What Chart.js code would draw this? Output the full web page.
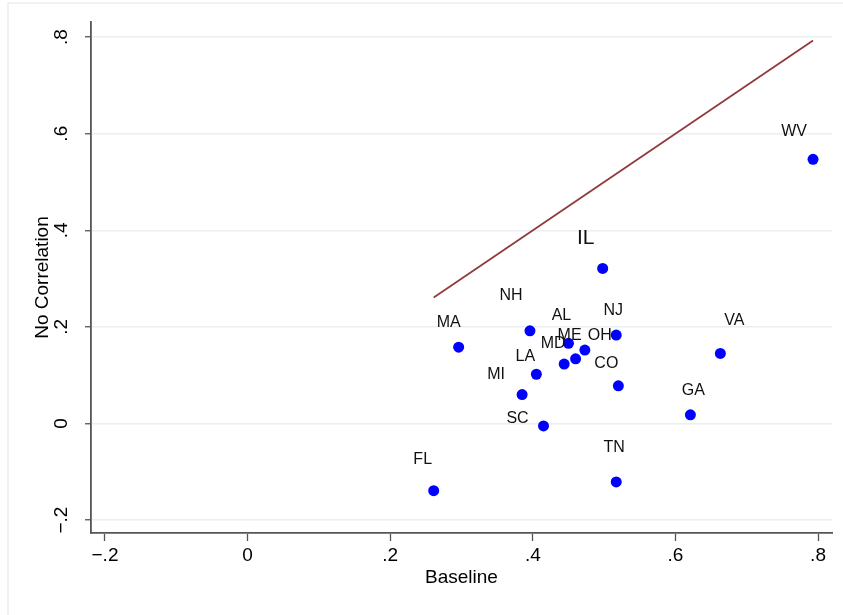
<!DOCTYPE html>
<html lang="en">
  <head>
    <meta charset="UTF-8" />
    <title>No Correlation vs Baseline</title>
    <script src="https://cdn.jsdelivr.net/npm/chart.js@4.4.0/dist/chart.umd.min.js"></script>
    <style>
      html, body { margin: 0; padding: 0; background: #fff; }
      #wrap { width: 843px; height: 615px; }
    </style>
  </head>
  <body>
    <div id="wrap"><canvas id="chart" width="843" height="615"></canvas></div>
    <script>
      // values
      const states = ["WV", "IL", "NH", "MA", "AL", "NJ", "ME", "OH", "MD", "LA", "CO", "MI", "SC", "TN", "FL", "GA", "VA"];
      const baseline = [0.793, 0.498, 0.396, 0.296, 0.450, 0.517, 0.460, 0.473, 0.444, 0.405, 0.520, 0.385, 0.415, 0.517, 0.261, 0.621, 0.663];
      const noCorr = [0.547, 0.321, 0.192, 0.158, 0.166, 0.183, 0.134, 0.152, 0.123, 0.102, 0.078, 0.060, -0.005, -0.121, -0.139, 0.018, 0.145];
      // 45 degree reference line
      const lineX = [0.261, 0.793];
      const lineY = [0.261, 0.793];
      const xTicks = [-0.2, 0, 0.2, 0.4, 0.6, 0.8];
      const xTickLabels = ["\u2212.2", "0", ".2", ".4", ".6", ".8"];
      const yTicks = [-0.2, 0, 0.2, 0.4, 0.6, 0.8];
      const yTickLabels = ["\u2212.2", "0", ".2", ".4", ".6", ".8"];

      // where each state label sits relative to its marker (px)
      const labelOffsets = {
        WV: [-19, -28], IL: [-17, -30], NH: [-19, -35], MA: [-10, -25],
        AL: [-7, -28], NJ: [-3, -25], ME: [-6, -23], OH: [15, -14],
        MD: [-11, -21], LA: [-11, -18], CO: [-12, -22], MI: [-26, -20],
        SC: [-26, -7], TN: [-2, -34], FL: [-11, -31], GA: [3, -24], VA: [14, -33],
      };

      const FONT = "'Liberation Sans', Arial, Helvetica, sans-serif";

      // light frame round the plot region
      const framePlugin = {
        id: "frame",
        beforeDraw(chart) {
          const c = chart.ctx;
          c.save();
          c.fillStyle = "#ffffff";
          c.fillRect(0, 0, chart.width, chart.height);
          c.strokeStyle = "#e7eff1";
          c.lineWidth = 1.5;
          c.strokeRect(8, 3, chart.width + 20, chart.height + 20);
          c.restore();
        },
      };

      const labelPlugin = {
        id: "stateLabels",
        afterDatasetsDraw(chart) {
          const c = chart.ctx;
          const meta = chart.getDatasetMeta(1);
          c.save();
          c.fillStyle = "#111";
          c.textAlign = "center";
          c.textBaseline = "middle";
          meta.data.forEach((pt, i) => {
            const s = states[i];
            const off = labelOffsets[s] || [0, -25];
            c.font = (s === "IL" ? "21px " : "16px ") + FONT;
            c.fillText(s, pt.x + off[0], pt.y + off[1]);
          });
          c.restore();
        },
      };

      const ctx = document.getElementById("chart").getContext("2d");
      new Chart(ctx, {
        type: "scatter",
        data: {
          datasets: [
            {
              type: "line",
              data: lineX.map((x, i) => ({ x: x, y: lineY[i] })),
              borderColor: "#903a3e",
              borderWidth: 1.8,
              pointRadius: 0,
              fill: false,
            },
            {
              data: baseline.map((x, i) => ({ x: x, y: noCorr[i] })),
              backgroundColor: "#0000ff",
              borderWidth: 0,
              pointRadius: 5.5,
              pointHoverRadius: 5.5,
            },
          ],
        },
        options: {
          responsive: false,
          animation: false,
          layout: { padding: { left: 0, right: 11, top: 22, bottom: 0 } },
          plugins: { legend: { display: false }, tooltip: { enabled: false } },
          scales: {
            x: {
              type: "linear",
              min: -0.2196,
              max: 0.8196,
              afterFit(scale) { scale.height = 82; },
              afterBuildTicks(scale) { scale.ticks = xTicks.map((v) => ({ value: v })); },
              grid: { drawOnChartArea: false, tickLength: 8, tickColor: "#555", tickWidth: 1.3 },
              border: { color: "#555", width: 1.8 },
              ticks: {
                autoSkip: false,
                maxRotation: 0,
                padding: 3,
                color: "#000",
                font: { family: FONT, size: 19 },
                callback: (v, i) => xTickLabels[i],
              },
              title: {
                display: true,
                text: "Baseline",
                color: "#000",
                font: { family: FONT, size: 19 },
                padding: { top: 0, bottom: 26 },
              },
            },
            y: {
              type: "linear",
              min: -0.2267,
              max: 0.8313,
              afterFit(scale) { scale.width = 91; },
              afterBuildTicks(scale) { scale.ticks = yTicks.map((v) => ({ value: v })); },
              grid: { color: "#e9eff2", lineWidth: 1.5, tickLength: 6, tickColor: "#555", tickWidth: 1.3 },
              border: { color: "#555", width: 1.8 },
              ticks: {
                autoSkip: false,
                minRotation: 90,
                maxRotation: 90,
                crossAlign: "center",
                padding: 10,
                color: "#000",
                font: { family: FONT, size: 19 },
                callback: (v, i) => yTickLabels[i],
              },
              title: {
                display: true,
                text: "No Correlation",
                color: "#000",
                font: { family: FONT, size: 19 },
                padding: { top: 31, bottom: 0 },
              },
            },
          },
        },
        plugins: [framePlugin, labelPlugin],
      });
    </script>
  </body>
</html>
